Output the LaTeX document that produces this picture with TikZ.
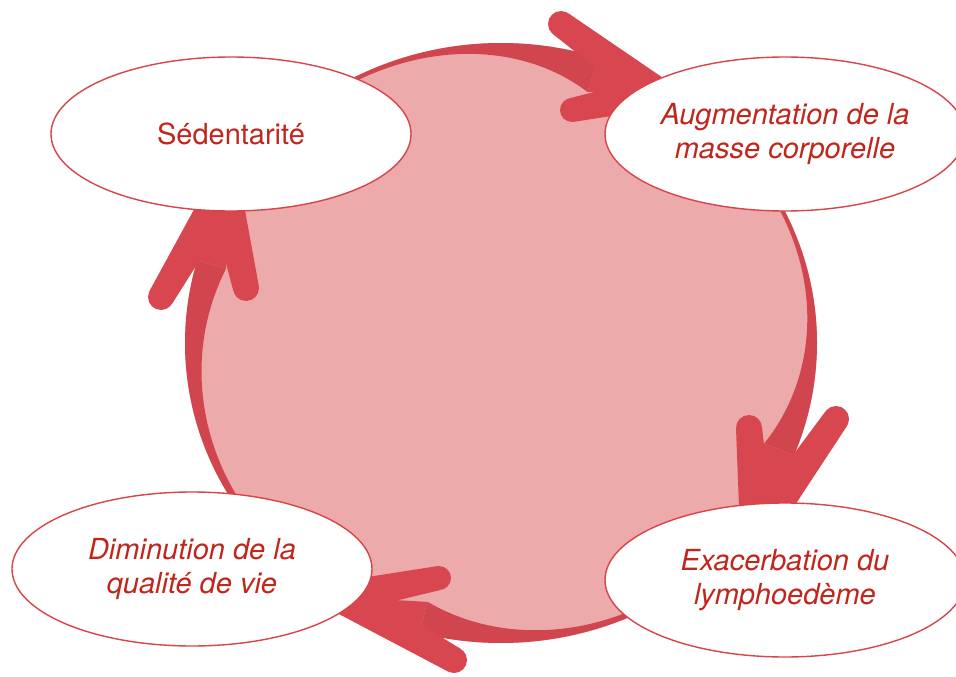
\documentclass[tikz,border=0pt]{standalone}
\usepackage{fontspec}
\setmainfont{TeX Gyre Heros}
\usetikzlibrary{shapes.geometric,calc}
\definecolor{pinkfill}{HTML}{ECAAAB}
\definecolor{bandred}{HTML}{D1454E}
\definecolor{arrowred}{HTML}{D8474F}
\definecolor{edgered}{HTML}{D9434A}
\definecolor{textred}{HTML}{C0261C}
% tapered band along the big oval: start angle, end angle, start width, end width, exponent
\newcommand\bandarc[5]{%
  \fill[bandred] plot[domain=#1:#2, samples=60] ({501+316*cos(\x)}, {343-300*sin(\x)})
  -- plot[domain=#2:#1, samples=60]
  ({501+(316-(#3+(#4-#3)*(((\x-(#1))/((#2)-(#1)))+0.001)^#5))*cos(\x)},
   {343-(300-(#3+(#4-#3)*(((\x-(#1))/((#2)-(#1)))+0.001)^#5))*sin(\x)}) -- cycle;}
% tapered prong of an arrow head: end, tip, half width at end, half width at tip
\newcommand\prongshape[4]{%
  \fill[arrowred] ($(#1)!#3pt!90:(#2)$) -- ($(#2)!#4pt!-90:(#1)$)
    -- ($(#2)!#4pt!90:(#1)$) -- ($(#1)!#3pt!-90:(#2)$) -- cycle;
  \fill[arrowred] (#1) circle [radius=#3];}
\begin{document}
\begin{tikzpicture}[x=1pt,y=-1pt,
  oval/.style={ellipse, draw=edgered, line width=1.4pt, fill=white,
    minimum width=360pt, minimum height=154pt, inner sep=0pt,
    text=textred, font=\fontsize{29}{34}\selectfont, align=center},
  headfill/.style={fill=arrowred}]
\useasboundingbox (0,0) rectangle (956,677);
% big circle
\fill[pinkfill] (501,343) ellipse [x radius=316, y radius=300];
% tapered shafts
\bandarc{125}{72}{4}{36}{3}
\bandarc{30}{-22}{4}{32}{2.5}
\bandarc{-58}{-105}{5}{32}{2.5}
\bandarc{220}{164}{6}{30}{2}
% arrow heads
\coordinate (o1) at (561,24);  \coordinate (i1) at (572,110); \coordinate (t1) at (655,93);
\coordinate (o2) at (836,419); \coordinate (i2) at (749,428); \coordinate (t2) at (757,532);
\coordinate (o3) at (454,660); \coordinate (i3) at (439,578); \coordinate (t3) at (343,597);
\coordinate (o4) at (161,297); \coordinate (i4) at (246,288); \coordinate (t4) at (224,190);
\fill[headfill] (598.6,57.7) -- (587.5,91.9) -- (t1) -- cycle;
\fill[headfill] (794.0,455.4) -- (764.3,443.4) -- (t2) -- cycle;
\fill[headfill] (419.2,632.8) -- (427.5,601.9) -- (t3) -- cycle;
\fill[headfill] (197.2,260.3) -- (226.1,268.6) -- (t4) -- cycle;
\prongshape{o1}{t1}{13}{17}
\prongshape{i1}{t1}{12}{16}
\prongshape{o2}{t2}{13}{17}
\prongshape{i2}{t2}{13}{17}
\prongshape{o3}{t3}{13}{17}
\prongshape{i3}{t3}{12}{16}
\prongshape{o4}{t4}{13}{17}
\prongshape{i4}{t4}{13}{17}
% the four stages
\node[oval] (sed) at (231,134) {Sédentarité};
\node[oval] (aug) at (785,134) {\itshape Augmentation de la\\\itshape masse corporelle};
\node[oval] (exa) at (785,580) {\itshape Exacerbation du\\\itshape lymphoedème};
\node[oval] (dim) at (192,569) {\itshape Diminution de la\\\itshape qualité de vie};
\end{tikzpicture}
\end{document}
